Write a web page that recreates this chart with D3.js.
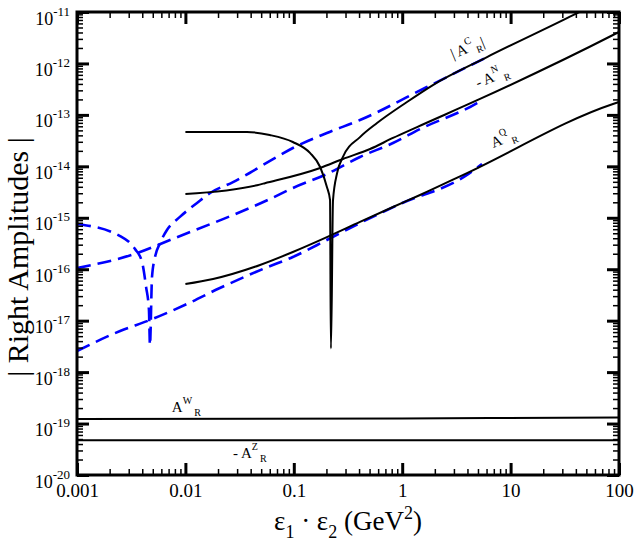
<!DOCTYPE html>
<html>
<head>
<meta charset="UTF-8">
<script src="https://d3js.org/d3.v7.min.js"></script>
<style>
  body { margin: 0; background: #fff; }
  svg text { font-family: "Liberation Serif", "Times New Roman", serif; fill: #000; }
</style>
</head>
<body>
<div id="chart"></div>
<script>
// tick labels
const xTickValues = [0.001, 0.01, 0.1, 1, 10, 100];
const xTickLabels = ["0.001", "0.01", "0.1", "1", "10", "100"];
const yTickExps = [-20, -19, -18, -17, -16, -15, -14, -13, -12, -11];

// black solid curves  [x, y]
const ampC = [
  [0.01, 4.65e-14], [0.037, 4.65e-14], [0.060, 4.06e-14], [0.098, 2.97e-14],
  [0.141, 1.82e-14], [0.175, 9.7e-15], [0.202, 3.96e-15], [0.216, 2.2e-15],
  [0.2195, 2.9e-18], [0.2205, 2.9e-18], [0.230, 2.2e-15], [0.251, 7.4e-15],
  [0.284, 1.52e-14], [0.408, 3.7e-14], [0.586, 6.95e-14], [1.107, 1.78e-13],
  [1.92, 3.8e-13], [6.06, 1.33e-12], [37.7, 8.7e-12], [43, 1.0e-11]
];
const ampN = [
  [0.01, 2.9e-15], [0.0458, 4.3e-15], [0.0542, 4.7e-15], [0.175, 9.3e-15],
  [0.284, 1.39e-14], [0.505, 2.17e-14], [0.822, 3.56e-14], [1.37, 5.8e-14],
  [5.22, 2.04e-13], [88, 3.57e-12], [100, 4.1e-12]
];
const ampQ = [
  [0.01, 5.15e-17], [0.018, 6.46e-17], [0.0488, 1.21e-16], [0.098, 2.16e-16],
  [0.202, 4.2e-16], [0.408, 8.3e-16], [0.822, 1.62e-15], [1.46, 2.77e-15],
  [3.96, 7.4e-15], [88, 1.63e-13], [100, 1.78e-13]
];
const ampW = [[0.001, 1.22e-19], [1, 1.26e-19], [100, 1.31e-19]];
const ampZ = [[0.001, 4.72e-20], [100, 4.72e-20]];

// blue dashed curves
const dashC = [
  [0.001, 7.57e-16], [0.0025, 4.42e-16], [0.00343, 2.47e-16], [0.00398, 1.38e-16],
  [0.00434, 4.5e-17], [0.00461, 1.61e-17], [0.00471, 3.36e-18], [0.00492, 7.05e-17],
  [0.00525, 1.73e-16], [0.00584, 3.23e-16], [0.00676, 5.78e-16], [0.0089, 1.04e-15],
  [0.0128, 1.94e-15], [0.0169, 3.03e-15], [0.0275, 4.95e-15], [0.0603, 1.27e-14],
  [0.098, 2.27e-14], [0.202, 4.45e-14], [0.408, 7.94e-14], [1.69, 3.48e-13],
  [6.06, 1.33e-12]
];
const dashN = [
  [0.001, 1.05e-16], [0.00358, 2.06e-16], [0.00721, 3.7e-16], [0.0603, 2.32e-15],
  [0.098, 3.79e-15], [0.202, 7.1e-15], [0.408, 1.52e-14], [0.822, 2.84e-14],
  [1.46, 5.3e-14], [4.9, 1.7e-13], [5.45, 1.95e-13]
];
const dashQ = [
  [0.001, 2.57e-18], [0.0025, 6.3e-18], [0.00471, 1.03e-17], [0.01035, 2.11e-17],
  [0.0208, 4.31e-17], [0.0542, 1.05e-16], [0.098, 1.73e-16], [0.202, 3.7e-16],
  [0.408, 7.9e-16], [0.955, 1.85e-15], [3.96, 6.8e-15], [5.45, 1.11e-14]
];

// where the curve names sit (data coords)
const labelC = [2.94, 1.22e-12];
const labelN = [5.0, 3.33e-13];
const labelQ = [6.9, 2.27e-14];
const labelW = [0.0075, 1.67e-19];
const labelZ = [0.0275, 2.14e-20];

const width = 635, height = 545;
const margin = {left: 77, right: 16, top: 12, bottom: 70};

const svg = d3.select("#chart").append("svg")
  .attr("width", width).attr("height", height);

const x = d3.scaleLog().domain([0.001, 100]).range([margin.left, width - margin.right]);
const y = d3.scaleLog().domain([1e-20, 1e-11]).range([height - margin.bottom, margin.top]);

const xMajor = xTickValues;
const xMinor = [];
for (let e = -3; e < 2; e++) for (let k = 2; k <= 9; k++) xMinor.push(k * Math.pow(10, e));
const yMajor = yTickExps.map(e => Math.pow(10, e));
const yMinor = [];
for (let e = -20; e < -11; e++) for (let k = 2; k <= 9; k++) yMinor.push(k * Math.pow(10, e));

const x0 = x.range()[0], x1 = x.range()[1];
const y0 = y.range()[0], y1 = y.range()[1];

// curves
const line = d3.line().x(d => x(d[0])).y(d => y(d[1])).curve(d3.curveMonotoneX);
const plot = svg.append("g");

[dashC, dashN, dashQ].forEach(s => {
  plot.append("path").datum(s).attr("d", line)
    .attr("fill", "none").attr("stroke", "#0000ff")
    .attr("stroke-width", 2.6).attr("stroke-dasharray", "14,7");
});
[ampC, ampN, ampQ, ampW, ampZ].forEach(s => {
  plot.append("path").datum(s).attr("d", line)
    .attr("fill", "none").attr("stroke", "#000")
    .attr("stroke-width", 2).attr("stroke-linejoin", "round");
});

// axes: ticks pointing inwards
function styleTicks(g, w) {
  g.select(".domain").remove();
  g.selectAll(".tick line").attr("stroke", "#000").attr("stroke-width", w);
}
svg.append("g").attr("transform", `translate(0,${y0})`)
  .call(d3.axisBottom(x).tickValues(xMinor).tickSize(-6).tickFormat(""))
  .call(g => styleTicks(g, 1.5));
svg.append("g").attr("transform", `translate(0,${y1})`)
  .call(d3.axisTop(x).tickValues(xMinor).tickSize(-6).tickFormat(""))
  .call(g => styleTicks(g, 1.5));
svg.append("g").attr("transform", `translate(${x0},0)`)
  .call(d3.axisLeft(y).tickValues(yMinor).tickSize(-6).tickFormat(""))
  .call(g => styleTicks(g, 1.5));
svg.append("g").attr("transform", `translate(${x1},0)`)
  .call(d3.axisRight(y).tickValues(yMinor).tickSize(-6).tickFormat(""))
  .call(g => styleTicks(g, 1.5));

const xAxis = svg.append("g").attr("transform", `translate(0,${y0})`)
  .call(d3.axisBottom(x).tickValues(xMajor).tickSize(-12).tickPadding(9)
    .tickFormat((d, i) => xTickLabels[i]))
  .call(g => styleTicks(g, 3));
xAxis.selectAll(".tick text").attr("font-size", 19).attr("font-family", "Liberation Serif");

svg.append("g").attr("transform", `translate(0,${y1})`)
  .call(d3.axisTop(x).tickValues(xMajor).tickSize(-12).tickFormat(""))
  .call(g => styleTicks(g, 3));
svg.append("g").attr("transform", `translate(${x1},0)`)
  .call(d3.axisRight(y).tickValues(yMajor).tickSize(-12).tickFormat(""))
  .call(g => styleTicks(g, 3));

const yAxis = svg.append("g").attr("transform", `translate(${x0},0)`)
  .call(d3.axisLeft(y).tickValues(yMajor).tickSize(-12).tickFormat(""))
  .call(g => styleTicks(g, 3));
yAxis.selectAll(".tick").each(function(d, i) {
  const t = d3.select(this).append("text")
    .attr("x", -7).attr("y", 12).attr("text-anchor", "end")
    .attr("font-size", 18);
  t.append("tspan").text("10");
  t.append("tspan").attr("dy", -9).attr("font-size", 13).text(String(yTickExps[i]));
});

// frame
svg.append("rect")
  .attr("x", x0).attr("y", y1).attr("width", x1 - x0).attr("height", y0 - y1)
  .attr("fill", "none").attr("stroke", "#000").attr("stroke-width", 3);

// curve labels
function ampLabel(pos, angle, pre, sup, post) {
  const t = svg.append("text")
    .attr("transform", `translate(${x(pos[0])},${y(pos[1])}) rotate(${angle})`)
    .attr("font-size", 15);
  t.append("tspan").text(pre + "A");
  t.append("tspan").attr("dy", -8).attr("font-size", 10).text(sup);
  t.append("tspan").attr("dy", 12).attr("dx", 2).attr("font-size", 10).text("R");
  if (post) t.append("tspan").attr("dy", -4).text(post);
}
ampLabel(labelC, -22, "| ", "C", "|");
ampLabel(labelN, -22, "- ", "N", "");
ampLabel(labelQ, -22, "", "Q", "");
ampLabel(labelW, 0, "", "W", "");
ampLabel(labelZ, 0, "- ", "Z", "");

// axis titles
const xt = svg.append("text")
  .attr("x", (x0 + x1) / 2).attr("y", 530)
  .attr("text-anchor", "middle").attr("font-size", 27);
xt.append("tspan").text("\u03b5");
xt.append("tspan").attr("dy", 8).attr("font-size", 18).text("1");
xt.append("tspan").attr("dy", -8).text(" \u00b7 \u03b5");
xt.append("tspan").attr("dy", 8).attr("font-size", 18).text("2");
xt.append("tspan").attr("dy", -8).text(" (GeV");
xt.append("tspan").attr("dy", -11).attr("font-size", 18).text("2");
xt.append("tspan").attr("dy", 11).text(")");

svg.append("text")
  .attr("transform", "translate(28,257) rotate(-90)")
  .attr("text-anchor", "middle").attr("font-size", 30)
  .text("| Right Amplitudes |");
</script>
</body>
</html>
